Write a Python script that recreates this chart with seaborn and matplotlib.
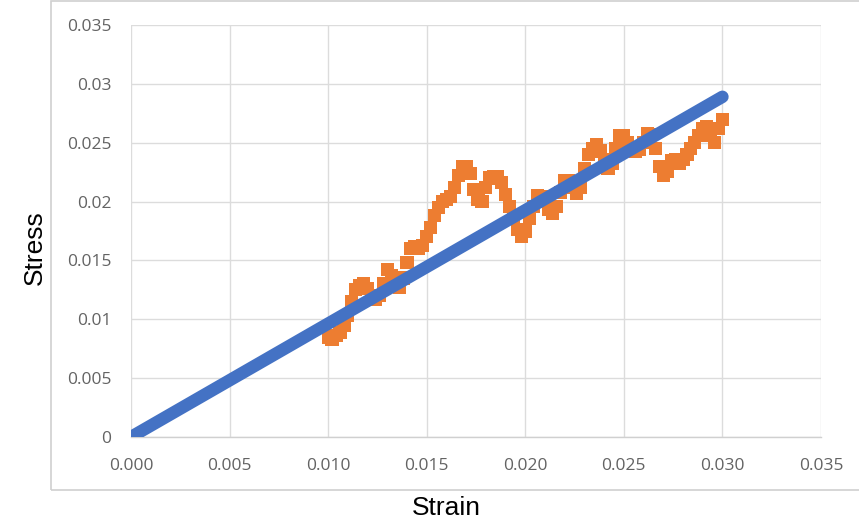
import matplotlib
matplotlib.use("Agg")
import matplotlib.pyplot as plt
import seaborn as sns
import pandas as pd
from matplotlib.patches import Rectangle

# Fitted line (blue)
fit_strain = [0.0, 0.030]
fit_stress = [0.0, 0.0289]

# Measured data (orange)
meas_strain = [
    0.0100, 0.0102, 0.0104, 0.0106, 0.0108, 0.0110, 0.0112, 0.0114, 0.0116, 0.0118,
    0.0120, 0.0122, 0.0124, 0.0126, 0.0128, 0.0130, 0.0132, 0.0134, 0.0136, 0.0138,
    0.0140, 0.0142, 0.0144, 0.0146, 0.0148, 0.0150, 0.0152, 0.0154, 0.0156, 0.0158,
    0.0160, 0.0162, 0.0164, 0.0166, 0.0168, 0.0170, 0.0172, 0.0174, 0.0176, 0.0178,
    0.0180, 0.0182, 0.0184, 0.0186, 0.0188, 0.0190, 0.0192, 0.0194, 0.0196, 0.0198,
    0.0200, 0.0202, 0.0204, 0.0206, 0.0208, 0.0210, 0.0212, 0.0214, 0.0216, 0.0218,
    0.0220, 0.0222, 0.0224, 0.0226, 0.0228, 0.0230, 0.0232, 0.0234, 0.0236, 0.0238,
    0.0240, 0.0242, 0.0244, 0.0246, 0.0248, 0.0250, 0.0252, 0.0254, 0.0256, 0.0258,
    0.0260, 0.0262, 0.0264, 0.0266, 0.0268, 0.0270, 0.0272, 0.0274, 0.0276, 0.0278,
    0.0280, 0.0282, 0.0284, 0.0286, 0.0288, 0.0290, 0.0292, 0.0294, 0.0296, 0.0298,
    0.0300,
]
meas_stress = [
    0.0085, 0.0083, 0.0086, 0.0089, 0.0095, 0.0103, 0.0115, 0.0125, 0.0129, 0.0130,
    0.0126, 0.0120, 0.0117, 0.0120, 0.0130, 0.0142, 0.0137, 0.0128, 0.0127, 0.0135,
    0.0148, 0.0160, 0.0162, 0.0160, 0.0163, 0.0170, 0.0178, 0.0188, 0.0195, 0.0200,
    0.0202, 0.0204, 0.0212, 0.0222, 0.0230, 0.0230, 0.0224, 0.0210, 0.0202, 0.0200,
    0.0212, 0.0220, 0.0221, 0.0221, 0.0216, 0.0206, 0.0196, 0.0186, 0.0176, 0.0170,
    0.0175, 0.0186, 0.0196, 0.0205, 0.0204, 0.0200, 0.0193, 0.0190, 0.0196, 0.0208,
    0.0218, 0.0218, 0.0212, 0.0207, 0.0212, 0.0228, 0.0240, 0.0245, 0.0248, 0.0243,
    0.0236, 0.0228, 0.0232, 0.0245, 0.0256, 0.0256, 0.0250, 0.0245, 0.0243, 0.0244,
    0.0250, 0.0258, 0.0257, 0.0245, 0.0230, 0.0222, 0.0226, 0.0235, 0.0236, 0.0232,
    0.0236, 0.0240, 0.0245, 0.0250, 0.0256, 0.0262, 0.0264, 0.0256, 0.0250, 0.0262,
    0.0270,
]

x_ticks = [0.000, 0.005, 0.010, 0.015, 0.020, 0.025, 0.030, 0.035]
x_tick_labels = ["0.000", "0.005", "0.010", "0.015", "0.020", "0.025", "0.030", "0.035"]
y_ticks = [0.0, 0.005, 0.010, 0.015, 0.020, 0.025, 0.030, 0.035]
y_tick_labels = ["0", "0.005", "0.01", "0.015", "0.02", "0.025", "0.03", "0.035"]

sns.set_style("white")
plt.rcParams["font.family"] = ["DejaVu Sans"]

W, H = 859, 526
fig = plt.figure(figsize=(W / 100, H / 100), dpi=100)
left, right, top, bottom = 131, 821, 25, 437
ax = fig.add_axes([left / W, 1 - bottom / H, (right - left) / W, (bottom - top) / H])

# outer chart frame
fig.patches.append(Rectangle((51 / W, 1 - 490 / H), (W + 5 - 51) / W, (490 - 1) / H,
                             transform=fig.transFigure, fill=False,
                             edgecolor="#d0d0d0", linewidth=1.2, zorder=0))

df_meas = pd.DataFrame({"Strain": meas_strain, "Stress": meas_stress})
df_fit = pd.DataFrame({"Strain": fit_strain, "Stress": fit_stress})

sns.scatterplot(data=df_meas, x="Strain", y="Stress", ax=ax, marker="s", s=90,
                color="#ED7D31", edgecolor="none", linewidth=0, zorder=3)
sns.lineplot(data=df_fit, x="Strain", y="Stress", ax=ax, color="#4472C4",
             linewidth=9, solid_capstyle="round", zorder=4)

ax.set_xlim(0, 0.035)
ax.set_ylim(0, 0.035)
ax.set_xticks(x_ticks)
ax.set_xticklabels(x_tick_labels)
ax.set_yticks(y_ticks)
ax.set_yticklabels(y_tick_labels)
ax.grid(True, color="#dcdcdc", linewidth=1.0)
ax.set_axisbelow(True)
for s in ["top", "right", "left"]:
    ax.spines[s].set_visible(False)
ax.spines["bottom"].set_color("#d0d0d0")
ax.spines["bottom"].set_linewidth(1.0)
ax.tick_params(axis="both", length=0, colors="#636363", labelsize=12.5)
ax.tick_params(axis="x", pad=15)
ax.tick_params(axis="y", pad=14)
for lab in ax.get_xticklabels() + ax.get_yticklabels():
    lab.set_fontfamily(["Open Sans", "DejaVu Sans"])
ax.set_xlabel("")
ax.set_ylabel("")

fig.text(446 / W, 1 - 508 / H, "Strain", ha="center", va="center",
         fontsize=19, family=["Liberation Sans", "DejaVu Sans"], color="black")
fig.text(35 / W, 1 - 248 / H, "Stress", ha="center", va="center", rotation=90,
         fontsize=19, family=["Liberation Sans", "DejaVu Sans"], color="black")

fig.savefig("out.png", dpi=100)
